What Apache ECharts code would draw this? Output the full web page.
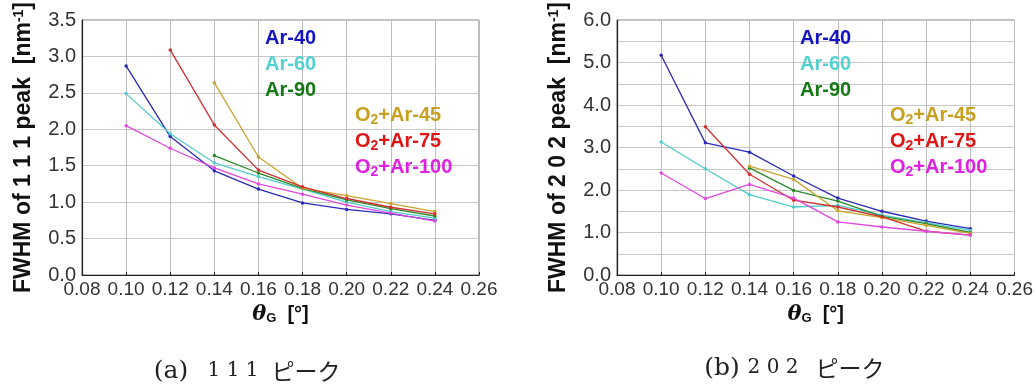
<!DOCTYPE html>
<html>
<head>
<meta charset="utf-8">
<script src="https://cdn.jsdelivr.net/npm/echarts@6/dist/echarts.min.js"></script>
<style>
html,body{margin:0;padding:0;background:#fff;}
#c{width:1036px;height:385px;}
</style>
</head>
<body>
<div id="c"></div>
<script>
// ---- data ----
const thetaG = [0.10, 0.12, 0.14, 0.16, 0.18, 0.20, 0.22, 0.24];
const seriesNames = ['Ar-40', 'Ar-60', 'Ar-90', 'O2+Ar-45', 'O2+Ar-75', 'O2+Ar-100'];
// (a) 111 peak FWHM [nm^-1]
const a_Ar40   = [2.87, 1.90, 1.43, 1.18, 0.99, 0.90, 0.84, 0.75];
const a_Ar60   = [2.49, 1.94, 1.54, 1.35, 1.18, 1.00, 0.87, 0.78];
const a_Ar90   = [null, null, 1.64, 1.40, 1.19, 1.03, 0.91, 0.81];
const a_O2Ar45 = [null, null, 2.64, 1.62, 1.19, 1.09, 0.98, 0.87];
const a_O2Ar75 = [null, 3.09, 2.06, 1.44, 1.21, 1.05, 0.93, 0.84];
const a_O2Ar100= [2.05, 1.74, 1.47, 1.25, 1.11, 0.96, 0.85, 0.74];
// (b) 202 peak FWHM [nm^-1]
const b_Ar40   = [5.17, 3.11, 2.89, 2.33, 1.81, 1.50, 1.27, 1.09];
const b_Ar60   = [3.13, 2.50, 1.89, 1.60, 1.64, 1.41, 1.23, 1.05];
const b_Ar90   = [null, null, 2.52, 1.99, 1.74, 1.38, 1.21, 1.00];
const b_O2Ar45 = [null, null, 2.56, 2.25, 1.51, 1.35, 1.17, 0.98];
const b_O2Ar75 = [null, 3.49, 2.37, 1.76, 1.60, 1.37, 1.03, 0.94];
const b_O2Ar100= [2.40, 1.80, 2.13, 1.81, 1.25, 1.13, 1.03, 0.94];
const xTicks = {min: 0.08, max: 0.26, interval: 0.02};
const yTicksA = {min: 0, max: 3.5, interval: 0.5};
const yTicksB = {min: 0, max: 6.0, interval: 0.5};
const captionParts = [['(a)', '1 1 1', 'ピーク'], ['(b)', '2 0 2', 'ピーク']];
const yTitles = ['FWHM of 1 1 1 peak  [nm', 'FWHM of 2 0 2 peak  [nm'];

// ---- styles ----
const lineColors = ['#2a2ab8', '#55cccc', '#2a8a2a', '#c9a42e', '#d23030', '#e048e0'];
const textColors = ['#1414c4', '#55d0d0', '#147814', '#c8a020', '#e01414', '#e020e0'];
const FONT = '"Liberation Sans", Arial, Helvetica, sans-serif';

const setsA = [a_Ar40, a_Ar60, a_Ar90, a_O2Ar45, a_O2Ar75, a_O2Ar100];
const setsB = [b_Ar40, b_Ar60, b_Ar90, b_O2Ar45, b_O2Ar75, b_O2Ar100];

function pairs(vals) {
  const out = [];
  vals.forEach((v, i) => { if (v !== null) out.push([thetaG[i], v]); });
  return out;
}

const grids = [
  {left: 82, top: 19, width: 397, height: 256},
  {left: 617, top: 19, width: 399, height: 256}
];

function xAxis(gi) {
  return {
    type: 'value', gridIndex: gi,
    min: xTicks.min, max: xTicks.max, interval: xTicks.interval,
    axisLine: {show: true, onZero: false, lineStyle: {color: '#222', width: 1.2}},
    axisTick: {show: true, inside: true, length: 3, lineStyle: {color: '#222'}},
    axisLabel: {color: '#333', fontFamily: FONT, fontSize: 19, margin: 5,
      formatter: v => v.toFixed(2)},
    splitLine: {show: true, lineStyle: {color: '#bdbdbd', width: 1}},
    name: '{i|θ}{s|G}{b|  [°]}',
    nameLocation: 'middle', nameGap: 26,
    nameTextStyle: {
      rich: {
        i: {fontFamily: '"DejaVu Serif", "Liberation Serif", serif', fontStyle: 'italic', fontWeight: 'bold', fontSize: 21, color: '#111'},
        s: {fontFamily: FONT, fontWeight: 'bold', fontSize: 13, color: '#111', verticalAlign: 'bottom', padding: [8, 0, 0, 0]},
        b: {fontFamily: FONT, fontWeight: 'bold', fontSize: 20, color: '#111'}
      }
    }
  };
}

function yAxis(gi, t, labelEvery) {
  return {
    type: 'value', gridIndex: gi,
    min: t.min, max: t.max, interval: t.interval,
    axisLine: {show: true, onZero: false, lineStyle: {color: '#222', width: 1.2}},
    axisTick: {show: false},
    axisLabel: {color: '#333', fontFamily: FONT, fontSize: 20, margin: 6,
      formatter: v => {
        const k = Math.round(v / t.interval);
        return (k % labelEvery === 0) ? v.toFixed(1) : '';
      }},
    splitLine: {show: true, lineStyle: {color: '#c8c8c8', width: 1}},
    name: '{a|' + yTitles[gi] + '}{p|-1}{a|]}',
    nameLocation: 'middle', nameGap: 46, nameRotate: 90,
    nameTextStyle: {
      rich: {
        a: {fontFamily: FONT, fontWeight: 'bold', fontSize: 23, color: '#111'},
        p: {fontFamily: FONT, fontWeight: 'bold', fontSize: 14, color: '#111', verticalAlign: 'top', padding: [0, 0, 10, 0]}
      }
    }
  };
}

const series = [];
[setsA, setsB].forEach((sets, gi) => {
  sets.forEach((vals, si) => {
    series.push({
      type: 'line', name: seriesNames[si],
      xAxisIndex: gi, yAxisIndex: gi,
      data: pairs(vals),
      symbol: 'circle', symbolSize: 3.5,
      lineStyle: {color: lineColors[si], width: 1.3},
      itemStyle: {color: lineColors[si]},
      z: 3 + si
    });
  });
});

// legend-like labels inside each plot
const graphic = [];
const legendPos = [
  {ax: 265, bx: 355},
  {ax: 800, bx: 890}
];
const legendY = [39, 65, 91, 116, 142, 168];
legendPos.forEach(p => {
  seriesNames.forEach((nm, si) => {
    let txt;
    const base = {fontFamily: FONT, fontWeight: 'bold', fontSize: 20, fill: textColors[si]};
    if (nm.startsWith('O2')) {
      txt = '{m|O}{s|2}{m|' + nm.slice(2) + '}';
    } else {
      txt = '{m|' + nm + '}';
    }
    graphic.push({
      type: 'text',
      left: si < 3 ? p.ax : p.bx,
      top: legendY[si] - 11,
      z: 100,
      style: {
        text: txt,
        rich: {
          m: Object.assign({}, base),
          s: Object.assign({}, base, {fontSize: 14, padding: [11, 0, 0, 0]})
        }
      }
    });
  });
});
// captions (three pieces each, centred on their spans)
const capX = [[171, 233, 306], [722, 773, 850]];
const capY = [371, 368];
const capFonts = ['"DejaVu Serif", serif', '"DejaVu Serif", serif', '"Noto Sans CJK JP", sans-serif'];
const capSizes = [25, 20, 23];
captionParts.forEach((parts, ci) => {
  parts.forEach((t, pi) => {
    graphic.push({
      type: 'text', x: capX[ci][pi], y: capY[ci], z: 100,
      style: {
        text: t,
        fontFamily: capFonts[pi],
        fontSize: capSizes[pi], fill: '#222', align: 'center', verticalAlign: 'middle'
      }
    });
  });
});

const chart = echarts.init(document.getElementById('c'), null, {renderer: 'canvas'});
chart.setOption({
  animation: false,
  backgroundColor: '#fff',
  grid: grids.map(g => Object.assign({show: true, borderColor: '#777', borderWidth: 1}, g)),
  xAxis: [xAxis(0), xAxis(1)],
  yAxis: [yAxis(0, yTicksA, 1), yAxis(1, yTicksB, 2)],
  series: series,
  graphic: graphic
});
</script>
</body>
</html>
